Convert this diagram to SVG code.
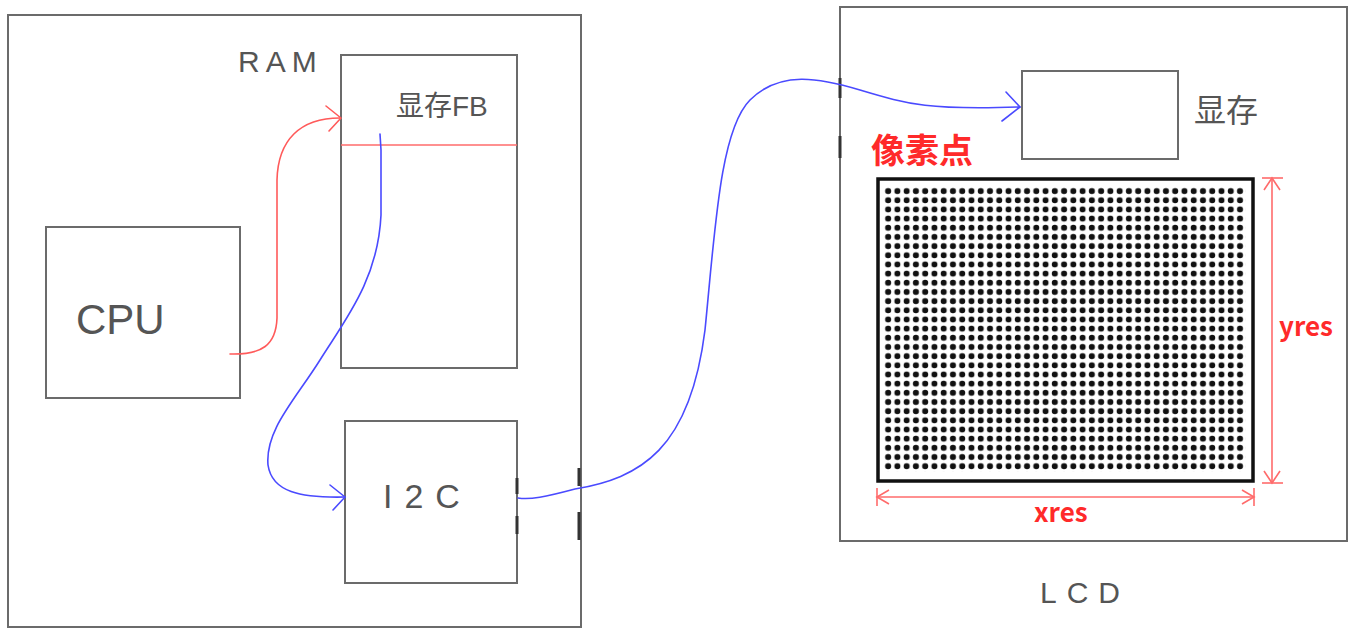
<svg xmlns="http://www.w3.org/2000/svg" width="1356" height="637" viewBox="0 0 1356 637">
<defs>
<style>
.box{fill:none;stroke:#6b6b6b;stroke-width:2}
.hand{font-family:"Liberation Sans","Noto Sans CJK SC",sans-serif;fill:#555;font-weight:normal}
.red{font-family:"Noto Sans CJK SC","Liberation Sans",sans-serif;fill:#ff2a2a;font-weight:bold}
.rc{fill:none;stroke:#ff5a5a;stroke-width:1.6;stroke-linecap:round;stroke-linejoin:round}
.bc{fill:none;stroke:#4a4aff;stroke-width:1.6;stroke-linecap:round;stroke-linejoin:round}
.dim{fill:none;stroke:#ff6b6b;stroke-width:1.6}
</style>
<pattern id="dots" x="883.5" y="186.5" width="9.26" height="9.17" patternUnits="userSpaceOnUse">
<circle cx="4.63" cy="4.58" r="3" fill="#111"/>
</pattern>
</defs>
<rect width="1356" height="637" fill="#fff"/>
<g id="ram-board">
<rect class="box" x="8" y="15" width="573" height="612"/>
<line x1="579" y1="468" x2="579" y2="486" stroke="#333" stroke-width="3"/>
<line x1="579" y1="512" x2="579" y2="540" stroke="#333" stroke-width="3"/>
<text class="hand" x="238" y="72" font-size="30" letter-spacing="6">RAM</text>
</g>
<g id="fb">
<rect class="box" x="341" y="55" width="176" height="313"/>
<line x1="341" y1="145" x2="517" y2="145" stroke="#ff6b6b" stroke-width="1.6"/>
<text class="hand" x="396" y="116" font-size="28">显存FB</text>
</g>
<g id="cpu">
<rect class="box" x="46" y="227" width="194" height="171"/>
<text class="hand" x="76" y="334" font-size="42">CPU</text>
</g>
<g id="i2c">
<rect class="box" x="345" y="421" width="172" height="162"/>
<line x1="517" y1="478" x2="517" y2="494" stroke="#333" stroke-width="3"/>
<line x1="517" y1="516" x2="517" y2="534" stroke="#333" stroke-width="3"/>
<text class="hand" x="383" y="508" font-size="34" letter-spacing="12">I2C</text>
</g>
<g id="lcd">
<rect class="box" x="840" y="7" width="507" height="534"/>
<line x1="840" y1="78" x2="840" y2="98" stroke="#333" stroke-width="3"/>
<line x1="840" y1="136" x2="840" y2="158" stroke="#333" stroke-width="3"/>
<text class="hand" x="1040" y="603" font-size="30" letter-spacing="10">LCD</text>
</g>
<g id="lcd-mem">
<rect class="box" x="1022" y="71" width="156" height="88"/>
<text class="hand" x="1194" y="122" font-size="32">显存</text>
</g>
<g id="pixels">
<text class="red" x="871" y="163" font-size="34">像素点</text>
<rect x="883.5" y="186.5" width="362" height="285" fill="url(#dots)"/>
<rect x="878" y="179" width="375" height="302" fill="none" stroke="#111" stroke-width="3.5"/>
</g>
<g id="dimensions">
<line class="dim" x1="1272" y1="178" x2="1272" y2="483"/>
<line class="dim" x1="1262" y1="178" x2="1283" y2="178"/>
<line class="dim" x1="1262" y1="483" x2="1283" y2="483"/>
<polyline class="dim" points="1264,190 1272,178 1280,190"/>
<polyline class="dim" points="1264,471 1272,483 1280,471"/>
<text class="red" x="1279" y="336" font-size="26" font-family="Liberation Sans,sans-serif">yres</text>
<line class="dim" x1="877" y1="497" x2="1254" y2="497"/>
<line class="dim" x1="877" y1="488" x2="877" y2="506"/>
<line class="dim" x1="1254" y1="488" x2="1254" y2="506"/>
<polyline class="dim" points="889,490 877,497 889,504"/>
<polyline class="dim" points="1242,490 1254,497 1242,504"/>
<text class="red" x="1034" y="522" font-size="26" font-family="Liberation Sans,sans-serif">xres</text>
</g>
<g id="connectors">
<path class="rc" d="M230,354 C262,355 276,345 277,318 L277,180 C278,140 300,118 340,118"/>
<polyline class="rc" points="326,106 341,118 329,131"/>
<path class="bc" d="M380,134 L381,150 L381,215 C378,280 345,320 320,360 C295,400 265,430 268,465 C272,492 300,498 345,497"/>
<polyline class="bc" points="330,485 345,497 333,510"/>
<path class="bc" d="M518,498 C530,500 545,497 575,489 C640,478 690,450 705,330 C715,230 720,130 750,100 C780,70 820,78 860,90 C910,105 930,110 1020,107"/>
<polyline class="bc" points="1006,92 1020,107 1002,121"/>
</g>
</svg>
